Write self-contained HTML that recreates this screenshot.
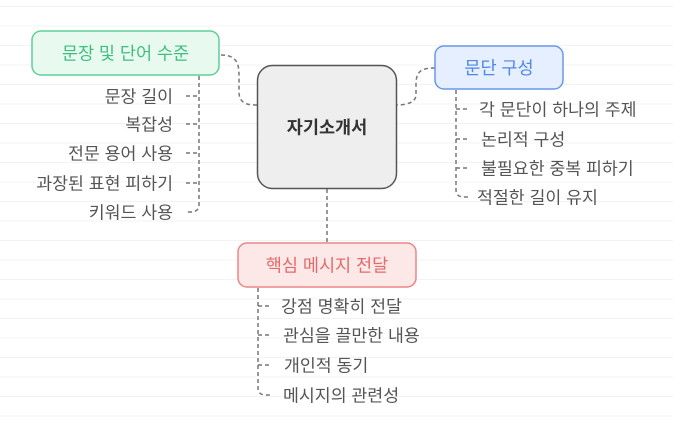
<!DOCTYPE html>
<html><head><meta charset="utf-8"><style>
html,body{margin:0;padding:0;background:#fff}
svg{display:block}
text{font-family:"Liberation Sans","Noto Sans CJK KR",sans-serif;font-size:17.3px;fill:#555;dominant-baseline:central}
</style></head><body>
<svg width="673" height="433" viewBox="0 0 673 433">
<defs><pattern id="bg" width="673" height="19.5" patternUnits="userSpaceOnUse"><rect width="673" height="1" y="6" fill="#f3f3f3"/></pattern></defs>
<rect width="673" height="433" fill="url(#bg)"/>
<g fill="none" stroke="#777" stroke-width="1.5" stroke-dasharray="4,3">
<path d="M221,55 C240,55 239,68 239,80 L239,92 C239,104 248,105 257,105"/>
<path d="M435,68 C420,68 416,72 416,85 L416,95 C416,103 405,105 397,105"/>
<path d="M327,189 L327,243"/>
<path d="M199,76 L199,205 Q199,212 190,212 L186,212"/>
<path d="M186,96 H199 M186,124 H199 M186,153 H199 M186,183 H199"/>
<path d="M456,90 L456,190 Q456,197 464,197 L470,197"/>
<path d="M456,109 H468 M456,139 H468 M456,168 H468"/>
<path d="M258,288 L258,388 Q258,395 266,395 L272,395"/>
<path d="M258,306 H270 M258,335 H270 M258,365 H270"/>
</g>
<rect x="257.5" y="65.5" width="139" height="123" rx="15" fill="#eeeeee" stroke="#555" stroke-width="1.5"/>
<text x="327" y="127.5" text-anchor="middle" style="font-weight:bold;font-size:17.5px;fill:#333">자기소개서</text>
<rect x="32" y="31" width="187" height="44" rx="9" fill="#e8f9ef" stroke="#5fd096" stroke-width="1.5"/>
<text x="125.5" y="53.5" text-anchor="middle" style="fill:#3fbf7f;font-size:17.5px">문장 및 단어 수준</text>
<rect x="435" y="46" width="128" height="43" rx="9" fill="#e6efff" stroke="#6a97ec" stroke-width="1.5"/>
<text x="499" y="68" text-anchor="middle" style="fill:#4f86e8;font-size:17.5px">문단 구성</text>
<rect x="238" y="243" width="178" height="44" rx="9" fill="#fde8e8" stroke="#ec8585" stroke-width="1.5"/>
<text x="327" y="265.5" text-anchor="middle" style="fill:#e46a6a;font-size:17.5px">핵심 메시지 전달</text>
<g text-anchor="end">
<text x="173" y="96.5">문장 길이</text>
<text x="173" y="124.5">복잡성</text>
<text x="173" y="153.5">전문 용어 사용</text>
<text x="173" y="183.5">과장된 표현 피하기</text>
<text x="173" y="212.5">키워드 사용</text>
</g>
<text x="479" y="109.5">각 문단이 하나의 주제</text>
<text x="481" y="139.5">논리적 구성</text>
<text x="481" y="168.5">불필요한 중복 피하기</text>
<text x="477" y="197.5">적절한 길이 유지</text>
<text x="281" y="306.5">강점 명확히 전달</text>
<text x="283" y="335.5">관심을 끌만한 내용</text>
<text x="284" y="365.5">개인적 동기</text>
<text x="283" y="395.5">메시지의 관련성</text>
</svg>
</body></html>
